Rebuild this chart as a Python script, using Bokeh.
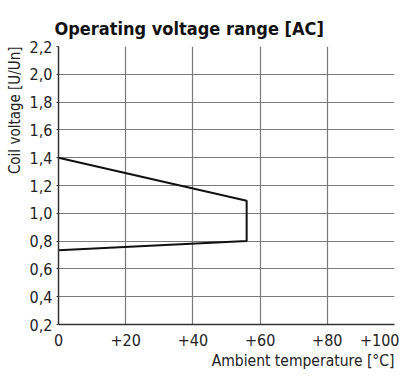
from bokeh.plotting import figure
from bokeh.models import Title, FixedTicker, Range1d
from bokeh.embed import file_html
from bokeh.resources import INLINE

# data
temp = [0, 56, 56, 0]
voltage = [1.4, 1.09, 0.80, 0.735]
x_ticks = [0, 20, 40, 60, 80, 100]
x_tick_labels = ["0", "+20", "+40", "+60", "+80", "+100"]
y_ticks = [0.2, 0.4, 0.6, 0.8, 1.0, 1.2, 1.4, 1.6, 1.8, 2.0, 2.2]
y_tick_labels = ["0,2", "0,4", "0,6", "0,8", "1,0", "1,2", "1,4", "1,6", "1,8", "2,0", "2,2"]
title_text = "Operating voltage range [AC]"
x_label = "Ambient temperature [°C]"
y_label = "Coil voltage [U/Un]"

FONT = "'DejaVu Sans Condensed', Roboto, sans-serif"

p = figure(width=399, height=374, output_backend="svg", toolbar_location=None,
           x_range=Range1d(0, 100), y_range=Range1d(0.2, 2.2),
           min_border_left=58, min_border_right=5, min_border_top=46, min_border_bottom=50,
           title=None)
p.outline_line_color = None

for ax in (p.xaxis, p.yaxis):
    ax.major_label_text_font = FONT
    ax.major_label_text_font_size = "16px"
    ax.major_label_text_color = "#222222"
    ax.minor_tick_line_color = None
    ax.axis_line_color = "#333333"
    ax.axis_line_width = 1.5

p.xaxis.ticker = FixedTicker(ticks=x_ticks)
p.xaxis.major_label_overrides = {t: l for t, l in zip(x_ticks, x_tick_labels)}
p.xaxis.major_tick_line_color = None
p.xaxis.major_label_standoff = 3

p.yaxis.ticker = FixedTicker(ticks=y_ticks)
p.yaxis.major_label_overrides = {t: l for t, l in zip(y_ticks, y_tick_labels)}
p.yaxis.major_tick_in = 0
p.yaxis.major_tick_out = 2
p.yaxis.major_tick_line_color = "#333333"
p.yaxis.major_label_standoff = 4

for g in (p.xgrid, p.ygrid):
    g.grid_line_color = "#7a7a7a"
    g.grid_line_width = 1.2

p.line(temp, voltage, line_color="#111111", line_width=2)

p.add_layout(Title(text=x_label, align="right", text_font=FONT, text_font_size="15.5px",
                   text_font_style="normal", text_color="#222222", standoff=2), "below")
p.add_layout(Title(text=y_label, align="right", text_font=FONT, text_font_size="15px",
                   text_font_style="normal", text_color="#222222", standoff=6), "left")
p.add_layout(Title(text=title_text, align="left", offset=-4, text_font=FONT,
                   text_font_size="18px", text_font_style="bold", text_color="#111111",
                   standoff=15), "above")

open("out.html", "w").write(file_html(p, INLINE))
